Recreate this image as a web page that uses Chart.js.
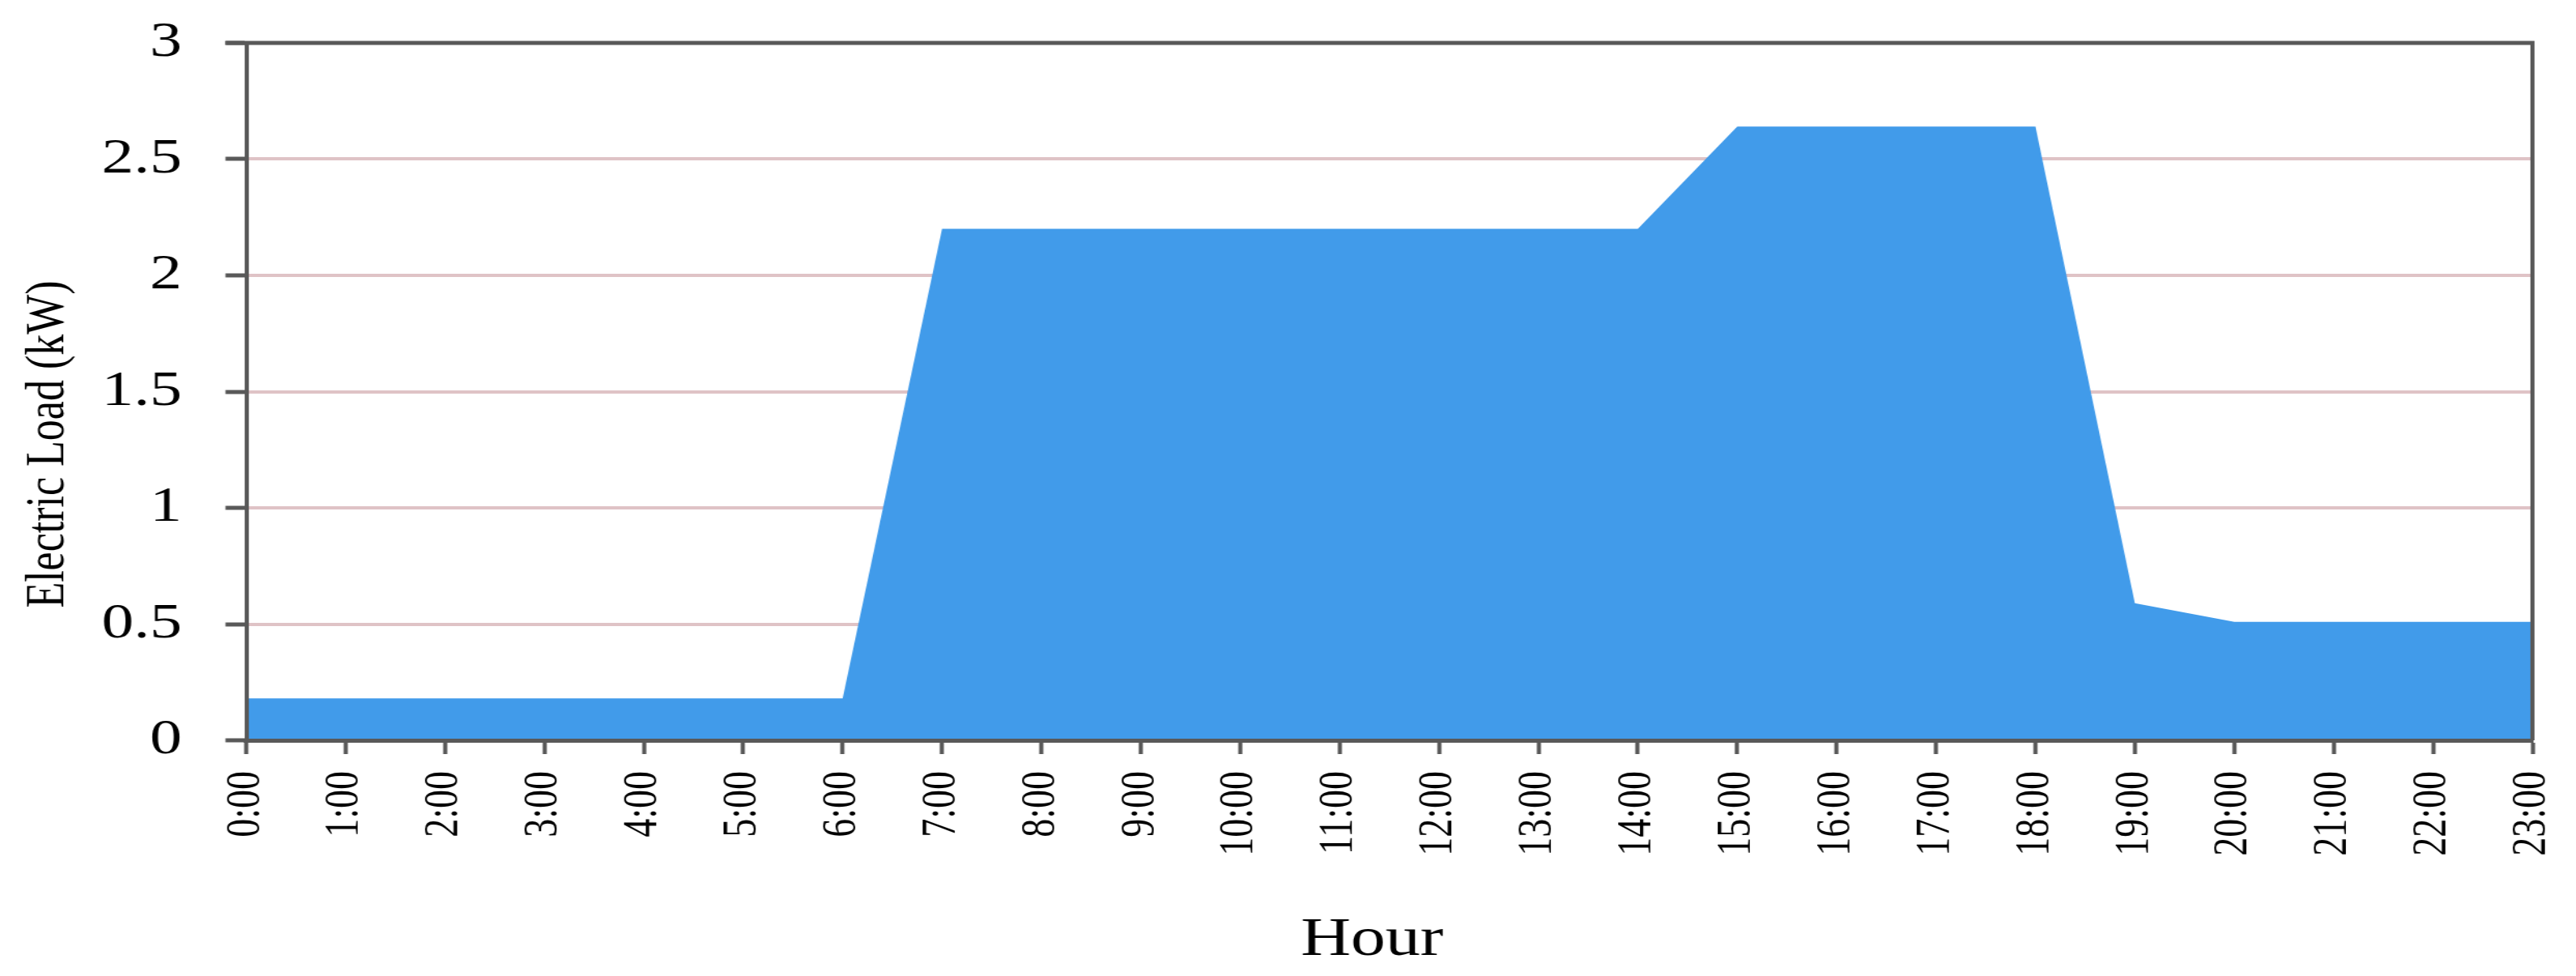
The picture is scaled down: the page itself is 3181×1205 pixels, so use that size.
<!DOCTYPE html>
<html>
<head>
<meta charset="utf-8">
<script src="https://cdn.jsdelivr.net/npm/chart.js@4.4.1/dist/chart.umd.min.js"></script>
<style>
  html, body { margin: 0; padding: 0; background: #fff; }
  #wrap { width: 3181px; height: 1205px; }
</style>
</head>
<body>
<div id="wrap">
  <!-- the source picture is stretched sideways, so the canvas is drawn narrower and scaled up -->
  <canvas id="loadChart" width="2485" height="1205" style="width:3181px;height:1205px"></canvas>
</div>
<script>
const hours = [
  "0:00", "1:00", "2:00", "3:00", "4:00", "5:00", "6:00", "7:00",
  "8:00", "9:00", "10:00", "11:00", "12:00", "13:00", "14:00", "15:00",
  "16:00", "17:00", "18:00", "19:00", "20:00", "21:00", "22:00", "23:00",
];
const loadKW = [
  0.18, 0.18, 0.18, 0.18, 0.18, 0.18, 0.18, 2.2,
  2.2, 2.2, 2.2, 2.2, 2.2, 2.2, 2.2, 2.64,
  2.64, 2.64, 2.64, 0.59, 0.51, 0.51, 0.51, 0.51,
];
const yTickValues = [0, 0.5, 1, 1.5, 2, 2.5, 3];
const yTickLabels = ["0", "0.5", "1", "1.5", "2", "2.5", "3"];
const xTitle = "Hour";
const yTitle = "Electric Load (kW)";

document.addEventListener("DOMContentLoaded", function () {
  const ctx = document.getElementById("loadChart");
  const axisColor = "#595959";
  const serif = "'Liberation Serif', 'Times New Roman', serif";

  // top and right edges of the plot frame
  const framePlugin = {
    id: "frame",
    afterDatasetsDraw(chart) {
      const { ctx, chartArea } = chart;
      ctx.save();
      ctx.strokeStyle = axisColor;
      ctx.lineWidth = 5;
      ctx.beginPath();
      ctx.moveTo(chartArea.left - 20, chartArea.top);
      ctx.lineTo(chartArea.right + 2, chartArea.top);
      ctx.stroke();
      ctx.lineWidth = 4;
      ctx.beginPath();
      ctx.moveTo(chartArea.right, chartArea.top);
      ctx.lineTo(chartArea.right, chartArea.bottom);
      ctx.stroke();
      ctx.restore();
    },
  };

  new Chart(ctx, {
    type: "line",
    data: {
      labels: hours,
      datasets: [
        {
          label: yTitle,
          data: loadKW,
          fill: "origin",
          backgroundColor: "#419BEA",
          borderWidth: 0,
          pointRadius: 0,
          tension: 0,
        },
      ],
    },
    plugins: [framePlugin],
    options: {
      responsive: false,
      devicePixelRatio: 1,
      animation: false,
      layout: { padding: { top: 53, right: 42, bottom: 0, left: 0 } },
      plugins: {
        legend: { display: false },
        tooltip: { enabled: false },
      },
      scales: {
        x: {
          offset: false,
          afterFit: (scale) => {
            scale.height = 291;
            // let the layout padding alone decide the plot edges
            scale.paddingLeft = 0;
            scale.paddingRight = 0;
          },
          grid: {
            drawOnChartArea: false,
            tickLength: 17,
            tickWidth: 4,
            tickColor: axisColor,
          },
          border: { color: axisColor, width: 5, z: 1 },
          ticks: {
            autoSkip: false,
            maxRotation: 90,
            minRotation: 90,
            padding: 21,
            color: "#000",
            font: { family: serif, size: 46 },
          },
          title: {
            display: true,
            // two trailing spaces: the source title sits slightly left of centre
            text: xTitle + "  ",
            color: "#000",
            font: { family: serif, size: 67 },
            padding: { top: 0, bottom: 3 },
          },
        },
        y: {
          min: 0,
          max: 3,
          afterFit: (scale) => {
            scale.width = 237.5;
            scale.paddingTop = 0;
            scale.paddingBottom = 0;
          },
          afterBuildTicks: (scale) => {
            scale.ticks = yTickValues.map((v) => ({ value: v }));
          },
          grid: {
            color: "#DFC3C6",
            lineWidth: 4,
            tickLength: 20,
            tickWidth: 5,
            tickColor: axisColor,
          },
          border: { color: axisColor, width: 4, z: 1 },
          ticks: {
            padding: 42,
            color: "#000",
            font: { family: serif, size: 62 },
            callback: (value) => yTickLabels[yTickValues.indexOf(value)],
          },
          title: {
            display: true,
            // trailing spaces push the label a little below the axis centre, as in the source
            text: yTitle + "          ",
            color: "#000",
            font: { family: serif, size: 52 },
            padding: { top: 16, bottom: 0 },
          },
        },
      },
    },
  });
});
</script>
</body>
</html>
